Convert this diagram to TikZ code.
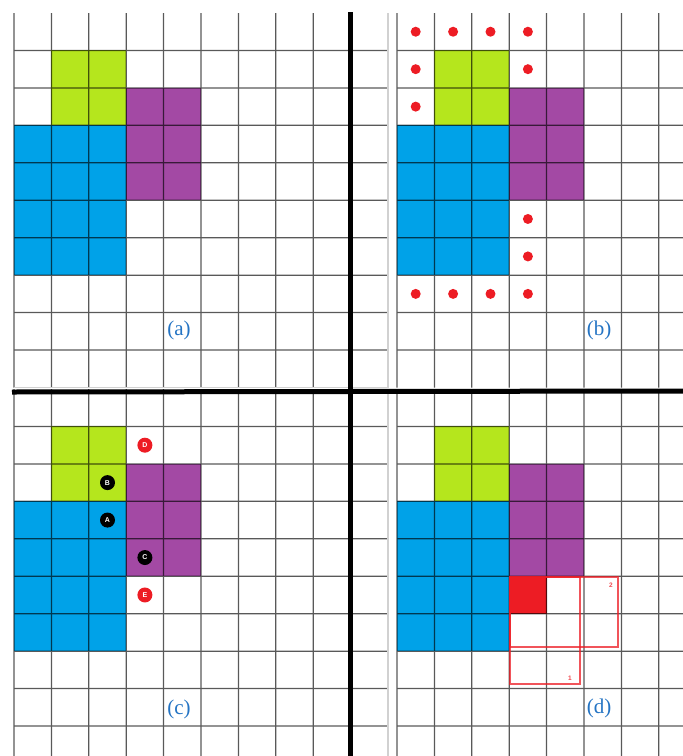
\documentclass[tikz,border=0pt]{standalone}
\usepackage{fontspec}
\setmainfont{Liberation Serif}
\newfontfamily\lsans{Liberation Sans}
\definecolor{cgreen}{HTML}{B5E61D}
\definecolor{cpurple}{HTML}{A349A4}
\definecolor{cblue}{HTML}{00A2E8}
\definecolor{cred}{HTML}{ED1C24}
\definecolor{clabel}{HTML}{2474C4}
\begin{document}
\begin{tikzpicture}[x=1pt,y=-1pt,
  gridline/.style={black, line width=1.25pt},
  gridlight/.style={black!18, line width=1.2pt},
  thickline/.style={black, line width=5pt},
  lbl/.style={text=clabel, font=\fontsize{21}{24}\selectfont, inner sep=0pt},
  rdot/.style={circle, fill=cred, minimum size=10pt, inner sep=0pt},
  letterdot/.style={circle, minimum size=15pt, inner sep=0pt, text=white, font=\lsans\bfseries\fontsize{7}{8}\selectfont},
  winbox/.style={draw=cred, draw opacity=0.75, line width=1.4pt},
  winnum/.style={text=cred, opacity=0.8, font=\lsans\bfseries\fontsize{6.5}{7}\selectfont, inner sep=0pt}]
\clip (0,0) rectangle (683,756);
\fill[white] (0,0) rectangle (683,756);
% ---------- shapes common to all panels
\newcommand\blocks{%
  \fill[cgreen] (1,1) rectangle (3,3);
  \fill[cpurple] (3,2) rectangle (5,5);
  \fill[cblue] (0,3) rectangle (3,7);}
\newcommand\leftgrid{%
  \begin{scope}[transparency group, opacity=0.65]
  \foreach \i in {0,...,9} \draw[gridline] (\i,0) -- (\i,10);
  \foreach \j in {1,...,9} \draw[gridline] (0,\j) -- (10,\j);
  \end{scope}
  \draw[gridlight] (10,0) -- (10,10);}
\newcommand\rightgrid{%
  \begin{scope}[transparency group, opacity=0.65]
  \foreach \i in {0,...,8} \draw[gridline] (\i,0) -- (\i,10);
  \foreach \j in {1,...,9} \draw[gridline] (0,\j) -- (8,\j);
  \end{scope}}
% ---------- panel (a)
\begin{scope}[shift={(14pt,-13pt)}, x=37.4pt, y=-37.45pt]
  \blocks
  \leftgrid
  \draw[gridlight] (0,10) -- (10,10);
\end{scope}
% ---------- panel (b)
\begin{scope}[shift={(397pt,-13pt)}, x=37.4pt, y=-37.45pt]
  \blocks
  \rightgrid
  \foreach \c/\r [count=\n] in {0/0,1/0,2/0,3/0,0/1,3/1,0/2,3/5,3/6,0/7,1/7,2/7,3/7}
    \node[rdot] (dot\n) at (\c+0.5,\r+0.5) {};
\end{scope}
% ---------- panel (c)
\begin{scope}[shift={(14pt,-389pt)}, x=37.4pt, y=-37.45pt]
  \blocks
  \leftgrid
  \node[letterdot, fill=cred]  (D) at (3.5,1.5) {D};
  \node[letterdot, fill=black] (B) at (2.5,2.5) {B};
  \node[letterdot, fill=black] (A) at (2.5,3.5) {A};
  \node[letterdot, fill=black] (C) at (3.5,4.5) {C};
  \node[letterdot, fill=cred]  (E) at (3.5,5.5) {E};
\end{scope}
% ---------- panel (d)
\begin{scope}[shift={(397pt,-389pt)}, x=37.4pt, y=-37.45pt]
  \blocks
  \fill[cred] (3,5) rectangle (4,6);
  \rightgrid
\end{scope}
\draw[winbox] (510,577) rectangle (618,647);
\draw[winbox] (510,577) rectangle (580,684);
\node[winnum] (n1) at (570,678) {1};
\node[winnum] (n2) at (611,585) {2};
% ---------- separators
\draw[thickline] (350,12) -- (350,756);
\draw[thickline] (12,392) -- (683,391);
% ---------- labels
\node[lbl] (la) at (179,330) {(a)};
\node[lbl] (lb) at (599,330) {(b)};
\node[lbl] (lc) at (179,709) {(c)};
\node[lbl] (ld) at (599,708) {(d)};
\end{tikzpicture}
\end{document}
